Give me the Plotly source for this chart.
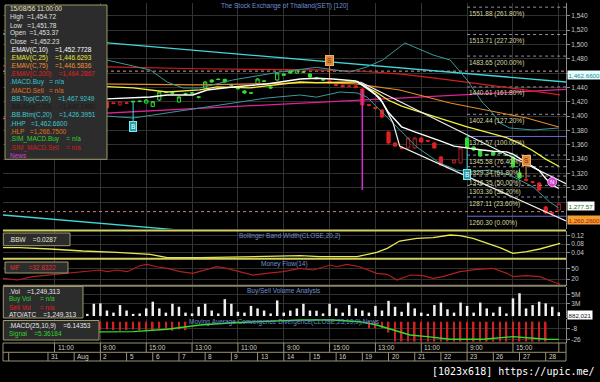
import plotly.graph_objects as go
from plotly.subplots import make_subplots

# ---------------- timeline ----------------
day_labels = ['29', '30', '31', 'Aug', '2', '5', '6', '7', '8', '9', '13', '14',
              '15', '16', '19', '20', '21', '22', '23', '26', '27', '28']
day_bar_counts = [2] + [4] * 20 + [3]
session_hours = ['9:00', '11:00', '13:00', '15:00']

# ---------------- price (2-hour candles) ----------------
opens = [1416, 1418, 1415, 1417, 1413, 1416, 1419, 1421, 1418, 1420, 1417, 1414, 1416, 1419, 1421,
         1420, 1418.5, 1415.5, 1418.5, 1419.5, 1421, 1418.2, 1413.5, 1422.4, 1434, 1432.8, 1419.6, 1431.5, 1432.5, 1427,
         1439.2, 1450.3, 1451.5, 1451.2, 1443.8, 1440.6, 1435, 1432.5, 1444.7, 1449, 1440.6, 1450.3, 1458.6, 1462.9, 1460,
         1461.8, 1458.7, 1453.37, 1451, 1449, 1444, 1443, 1441, 1442, 1437.8, 1416, 1412, 1408.5, 1377.8, 1362.5,
         1356, 1355.5, 1355.5, 1369.4, 1366, 1362.5, 1342.9, 1329.5, 1334.6, 1334.6, 1369.4, 1356.9, 1352.7, 1346.5, 1349.9,
         1348.5, 1346, 1343, 1320.6, 1311.5, 1308.5, 1306.7, 1273.2, 1265.5, 1269]
highs = [1420, 1419, 1418, 1418, 1417, 1421, 1423, 1422, 1421, 1421, 1418, 1417, 1420, 1422, 1423,
         1421.5, 1419.5, 1421, 1420, 1421.5, 1422, 1423.5, 1421, 1435, 1435, 1433.5, 1428, 1432.5, 1433.5, 1428,
         1449, 1451, 1452.5, 1452, 1445, 1441.5, 1436, 1433.5, 1453, 1450.5, 1441.5, 1461.5, 1460, 1464, 1465.5,
         1462.7, 1460, 1454.72, 1452, 1453, 1445, 1444, 1443.5, 1443, 1439, 1417, 1413, 1409.5, 1379, 1363.5,
         1357, 1370.5, 1371, 1370.5, 1367, 1363.5, 1344, 1330.5, 1340, 1356.5, 1371.57, 1358, 1354, 1347.5, 1351,
         1349.5, 1347, 1344, 1327, 1313, 1309.5, 1308, 1275, 1266.5, 1280]
lows = [1414, 1413, 1412, 1411, 1410, 1415, 1418, 1416, 1417, 1415, 1412, 1413, 1415, 1418, 1419,
        1410, 1416.5, 1414.5, 1417, 1418.5, 1419.5, 1417.5, 1412.5, 1421, 1432, 1430.5, 1419, 1429.5, 1431, 1424.5,
        1438, 1446.5, 1450, 1446.5, 1442, 1437, 1431, 1431, 1443.5, 1447.5, 1438, 1449.5, 1455.9, 1459, 1459,
        1460, 1453.5, 1451.78, 1449, 1445, 1441.5, 1440, 1439.5, 1438.5, 1413, 1413.5, 1409, 1397, 1360, 1357,
        1353.5, 1354.5, 1354, 1363, 1364, 1354.5, 1330.5, 1327, 1333.5, 1333.5, 1352, 1351.5, 1343, 1344.5, 1344.5,
        1347, 1344.5, 1328, 1312.5, 1309, 1306, 1295.5, 1263, 1260.3, 1267]
closes = [1418, 1415, 1417, 1413, 1416, 1419, 1421, 1418, 1420, 1417, 1414, 1416, 1419, 1421, 1420,
          1411.5, 1417.5, 1420, 1417.8, 1420.5, 1420.2, 1422.4, 1420, 1433.6, 1433, 1431.8, 1426.6, 1430.5, 1432, 1426,
          1447.5, 1447.5, 1451, 1447.5, 1443, 1438, 1432.2, 1432, 1451.7, 1448.5, 1439.2, 1460, 1457, 1460, 1464.3,
          1461.2, 1454.5, 1452.23, 1450.3, 1446, 1443, 1441, 1442, 1440, 1415.5, 1415, 1410.5, 1398.7, 1362.5, 1358.3,
          1355, 1369.4, 1369.4, 1363.9, 1365, 1355.5, 1331.8, 1328.5, 1338.8, 1355.5, 1356.9, 1352.7, 1344.3, 1345.7, 1345.7,
          1348, 1345.5, 1329, 1313.6, 1310.5, 1307.5, 1296.9, 1264.8, 1264.5, 1277.57]

buy_signal_bars = [19, 70]
sell_signal_bars = [49, 79]
news_bar, news_price = 83, 1308
news_line_bar, news_line_low, news_line_high = 54, 1297, 1437
cursor_bar = 47

# indicator lines (bar index, value)
ema10_x = [0, 15, 21.6, 24.2, 28.1, 30.3, 34.2, 39.4, 44.5, 47, 49.5, 53, 54, 55, 56, 57, 58, 59, 60, 62, 64, 66, 68, 70, 72, 74, 76, 77, 78, 79, 80, 81, 82, 83, 84]
ema10_y = [1422, 1424, 1426.6, 1429.4, 1429.4, 1436.4, 1440.6, 1444.7, 1451.7, 1452.8, 1451.7, 1449, 1443, 1437, 1430, 1420, 1405, 1395, 1385, 1378, 1372, 1365, 1358, 1355, 1353, 1351, 1350, 1347, 1341, 1335, 1330, 1324, 1313, 1304, 1299]
ema25_x = [0, 15, 19, 24.2, 29.2, 31.8, 36.8, 44.5, 47, 53.2, 54, 55, 56, 57, 58, 59, 60, 62, 65, 68, 70, 72, 74, 76, 78, 80, 82, 84]
ema25_y = [1442, 1441, 1439.2, 1433.6, 1436.4, 1440.6, 1439.2, 1447.5, 1446.6, 1447.5, 1443, 1439, 1434, 1428, 1422, 1418, 1414, 1408, 1399, 1390, 1385, 1380, 1375, 1370, 1362, 1352, 1340, 1330]
ema75_x = [0, 15, 29, 38, 44.5, 47, 53, 59.7, 67.4, 74.6, 79.1, 84]
ema75_y = [1446, 1445, 1443.5, 1445, 1446, 1446.6, 1445, 1436.4, 1418.2, 1405.7, 1397.3, 1384.8]
ema200_x = [-0.87, 15, 29, 47, 54, 60, 66, 72, 78, 84.2]
ema200_y = [1470, 1468.5, 1466, 1464.3, 1462.5, 1458.5, 1452, 1445, 1437.5, 1429.5]
bbtop_x = [0, 15, 21.6, 24.2, 26.6, 29.2, 34.2, 36.8, 41.4, 47, 52.1, 54.7, 57.1, 59.7, 60.5, 64.8, 67.4, 70, 72.4, 73.5, 75, 76.5, 80.1, 84]
bbtop_y = [1480, 1478.2, 1464.3, 1447.5, 1439.2, 1439.2, 1450.3, 1454.5, 1461.5, 1467.9, 1461.5, 1468.5, 1478.2, 1496.3, 1501.9, 1485.2, 1478.2, 1450.3, 1418.2, 1408.5, 1390.3, 1383.4, 1380.6, 1383.4]
bbbtm_x = [0, 15, 19, 24.2, 29.2, 34.2, 39.4, 44.5, 47, 50.6, 53.2, 54.7, 56.7, 57.8, 59.7, 62.3, 65.8, 68.4, 70.4, 73.5, 76.5, 80.1, 82.6, 84]
bbbtm_y = [1404, 1400, 1397.3, 1404.3, 1411.3, 1418.2, 1425.2, 1429.4, 1426.4, 1433.6, 1432.2, 1426.6, 1408.5, 1398.7, 1380.6, 1356.9, 1334.6, 1324.8, 1322, 1324.8, 1317.8, 1301.1, 1280.2, 1271.8]
channel_upper_x = [53.7, 85.1]
channel_upper_y = [1447.5, 1305.6]
channel_lower_x = [53.2, 54.7, 56.7, 58.7, 59.7, 85.1]
channel_lower_y = [1448.9, 1440.6, 1425.2, 1390.3, 1358.3, 1253.7]
trend_cyan_top_x = [-0.87, 85.1]
trend_cyan_top_y = [1514.5, 1447.5]
trend_cyan_btm_x = [-0.87, 85.1]
trend_cyan_btm_y = [1262, 1195]
trend_magenta_x = [-0.87, 85.1]
trend_magenta_y = [1396.6, 1437.2]
hhp, hlp = 1462.66, 1266.75
low_label_value = 1260.26

fib_values = [1551.88, 1513.71, 1483.65, 1440.61, 1402.44, 1371.57, 1345.58, 1329.34, 1316.35, 1303.36, 1287.11, 1260.30]
fib_pcts = ['261.80%', '227.20%', '200.00%', '161.80%', '127.20%', '100.00%', '76.40%', '61.80%', '50.00%', '38.20%', '23.60%', '0.00%']
fib_start_bar = 70

# Bollinger band width
bbw_x = [-0.87, 1.7, 6.3, 11.3, 16.5, 21.6, 24.2, 29.2, 44.5, 47.5, 53.2, 56.2, 57.8, 59.7, 62.3, 64.8, 67.4, 68.9, 70.9, 73, 75, 77, 79.1, 81.1, 83.1, 84.2]
bbw_y = [0.0622, 0.0622, 0.0559, 0.0463, 0.040, 0.0304, 0.014, 0.014, 0.0236, 0.0188, 0.0188, 0.040, 0.0593, 0.0945, 0.1075, 0.1104, 0.1234, 0.120, 0.1075, 0.0834, 0.0622, 0.0352, 0.0429, 0.0559, 0.0752, 0.0834]

# Money flow
mf_x = [-0.87, 1.3, 3.7, 6.3, 8.9, 11.3, 13.9, 15, 16.5, 18.1, 20, 21.1, 22.6, 24.2, 26.2, 28.1, 30.3, 31.8, 33.3, 35.3, 37.3, 39.4, 41.9, 44.5, 46.5, 49.1, 50.1, 51.6, 53.6, 56.2, 57.8, 59.3, 61.3, 63.3, 64.8, 66.3, 68.9, 71.5, 73.9, 76.1, 77, 79.1, 81.1, 83.1, 84.2]
mf_y = [22.0, 17.1, 26.7, 31.6, 36.6, 41.3, 46.2, 41.3, 46.2, 41.3, 58.7, 62.8, 55.8, 51.2, 41.3, 36.6, 49.1, 55.8, 51.2, 41.3, 31.6, 36.6, 41.3, 51.2, 46.2, 60.8, 55.8, 62.8, 55.8, 36.6, 33.7, 17.1, 31.6, 29.6, 22.0, 26.7, 41.3, 48.3, 51.2, 36.6, 26.7, 29.6, 26.7, 12.1, 4.6]

# Volume (millions)
volumes = [1.5, 2.2, 0.9, 1.8, 2.7, 1.0, 3.0, 1.3, 0.8, 2.1, 1.6, 0.7,
           0.5, 2.9, 3.0, 1.3, 0.8, 2.6, 1.3, 0.5, 0.6, 1.8, 3.4, 1.8, 0.8, 2.9, 2.2, 0.8, 0.6, 2.2, 2.9, 1.3,
           0.6, 4.0, 2.9, 1.0, 0.8, 2.4, 1.8, 1.3, 0.6, 3.7, 0.8, 1.3, 1.8,
           2.9, 1.3, 1.249313, 0.6, 2.9, 1.8, 0.8, 2.6, 1.8, 1.3, 0.8, 2.4, 1.3, 3.6, 2.2, 1.0, 3.2, 1.8, 0.8, 0.5,
           2.6, 3.2, 1.6, 0.8, 3.2, 2.4, 0.8, 3.2, 1.8, 0.8, 2.2, 0.6, 4.2, 5.4, 1.8, 2.6, 3.4, 3.0, 2.2, 0.882021]

# MACD
signal_x = [0, 14, 19, 24.2, 29.2, 34.2, 39.4, 44.5, 49.5, 53.6, 56.2, 58.7, 61.3, 63.9, 67.4, 72.4, 77, 80.1, 82.2, 84]
signal_y = [-14, -12.5, -12.5, -8.6, -1.7, 2.05, 4.8, 6.4, 6.4, 3.7, -1.7, -9.8, -17.9, -20.6, -24.9, -24.9, -20.6, -23.2, -24.9, -25]
hist_bars = list(range(0, 28)) + list(range(55, 83))
hist_bottom = [-10, -11, -10, -9, -10, -11, -10, -9, -10, -10, -11, -10, -9, -10,
               -10, -9, -10, -11, -10, -9, -10, -12, -10, -9, -10, -11, -9, -10,
               -7, -7, -7, -14] + [-28.5] * 24
hist_top = 3.7

legend_main = [
    ('15/08/56 11:00:00', '#e8e8c0'),
    ('High  =' + f'{highs[cursor_bar]:,.2f}', '#e0e0e0'),
    ('Low   =' + f'{lows[cursor_bar]:,.2f}', '#e0e0e0'),
    ('Open  =' + f'{opens[cursor_bar]:,.2f}', '#e0e0e0'),
    ('Close  =' + f'{closes[cursor_bar]:,.2f}', '#e0e0e0'),
    ('.EMAV(C,10)    =1,452.7728', '#ffffff'),
    ('.EMAV(C,25)    =1,446.6293', '#e8e840'),
    ('.EMAV(C,75)    =1,446.5836', '#f09030'),
    ('.EMAV(C,200)    =1,464.2867', '#e02020'),
    ('.MACD.Buy   = n/a', '#30c8d0'),
    ('.MACD.Sell   = n/a', '#e07020'),
    ('.BB.Top(C,20)    =1,467.9249', '#40c8d0'),
    ('.BB.Avg(C,20)    =1,447.1990', '#1a1a1a'),
    ('.BB.Btm(C,20)    =1,426.3951', '#40c8d0'),
    ('.HHP   =1,462.6600', '#40c8d0'),
    ('.HLP   =1,266.7500', '#e07020'),
    ('.SIM_MACD.Buy    = n/a', '#30d030'),
    ('.SIM_MACD.Sell    = n/a', '#d02020'),
    ('News', '#d040d0'),
]

# ---------------- geometry helpers ----------------
W, H = 600, 382
ML, MR = 3, 34
FONT = 'Liberation Sans, Arial, sans-serif'


def pxx(px):
    return (px - ML) / (W - ML - MR)


def pxy(py):
    return 1 - py / H


def nb(s):
    return s.replace(' ', '\u00a0')


n = len(closes)
bars = list(range(n))
bar_day, bar_time, day_start = [], [], []
for k, (lab, cnt) in enumerate(zip(day_labels, day_bar_counts)):
    hrs = session_hours[-cnt:] if k == 0 else session_hours[:cnt]
    day_start.append(len(bar_time))
    for h in hrs:
        bar_day.append(lab)
        bar_time.append(h)

time_ticks = list(range(7, n, 7))

# candle colour zone from signals
zone = []
state = 'sell'
for i in bars:
    if i in buy_signal_bars:
        state = 'buy'
    if i in sell_signal_bars:
        state = 'sell'
    zone.append(state)

fig = make_subplots(rows=5, cols=1, shared_xaxes=True, vertical_spacing=0)


def line(x, y, color, width=1, dash=None, row=1):
    fig.add_trace(go.Scatter(x=x, y=y, mode='lines', hoverinfo='skip',
                             line=dict(color=color, width=width, dash=dash)), row=row, col=1)


# fib lines
xr_right = 85.1
for v, p in zip(fib_values, fib_pcts):
    solid = p in ('100.00%', '0.00%')
    line([fib_start_bar, xr_right], [v, v], '#6a6ad0' if solid else '#9090a8', 1, None if solid else 'dot')
line([-0.87, xr_right], [hhp, hhp], '#d0a0a0', 1, 'dot')
line([-0.87, xr_right], [hlp, hlp], '#d08080', 1, 'dot')

line(trend_cyan_top_x, trend_cyan_top_y, '#40d8d8', 1.3)
line(trend_cyan_btm_x, trend_cyan_btm_y, '#40d8d8', 1.3)
line(trend_magenta_x, trend_magenta_y, '#e0209a', 1.3)
line(ema200_x, ema200_y, '#d02020', 1.2)
line(ema75_x, ema75_y, '#e88a2a', 1.2)
line(bbtop_x, bbtop_y, '#3a9a9a', 1)
line(bbbtm_x, bbbtm_y, '#3a9a9a', 1)
line(ema25_x, ema25_y, '#f0f040', 1.3)
line(channel_upper_x, channel_upper_y, '#f0f0f0', 1.2)
line(channel_lower_x, channel_lower_y, '#f0f0f0', 1.2)
line(ema10_x, ema10_y, '#ffffff', 1.4)

# candles
for zname, up_line, dn_col in (('buy', '#30e030', '#30e030'), ('sell', '#b02020', '#e02020')):
    idx = [i for i in bars if zone[i] == zname]
    fig.add_trace(go.Candlestick(
        x=idx, open=[opens[i] for i in idx], high=[highs[i] for i in idx],
        low=[lows[i] for i in idx], close=[closes[i] for i in idx],
        increasing=dict(line=dict(color=up_line, width=1), fillcolor='#000000'),
        decreasing=dict(line=dict(color=dn_col, width=1), fillcolor=dn_col),
        hoverinfo='skip', showlegend=False), row=1, col=1)

line([news_line_bar, news_line_bar], [news_line_low, news_line_high], '#d030d0', 1.5)
fig.add_trace(go.Scatter(x=[news_bar], y=[news_price], mode='markers+text', text=['N'],
                         textfont=dict(size=6, color='white', family=FONT),
                         marker=dict(size=9, color='#d040d0', line=dict(color='#f0a0f0', width=1)),
                         hoverinfo='skip'), row=1, col=1)

# lower panels
line(bbw_x, bbw_y, '#e8e850', 1.3, row=2)
line(mf_x, mf_y, '#b02020', 1.2, row=3)
fig.add_trace(go.Bar(x=bars, y=volumes, marker=dict(color='#f0f0f0', line=dict(width=0)),
                     width=0.38, hoverinfo='skip'), row=4, col=1)
fig.add_trace(go.Bar(x=hist_bars, y=[b - hist_top for b in hist_bottom], base=hist_top,
                     marker=dict(color='#d02020', line=dict(width=0)), width=0.25,
                     hoverinfo='skip'), row=5, col=1)
line(signal_x, signal_y, '#30e030', 1.4, row=5)

# ---------------- axes ----------------
main_ticks = list(range(1280, 1541, 20))
hidden_main_ticks = (1280, 1460)   # covered by the value boxes in the original
domains = [(229, 3), (259, 231), (286, 259), (318, 287), (343, 319)]
ranges = [(1242.5, 1557.7), (0.0077, 0.1427), (-0.4, 78.3), (-0.48, 6.9), (-30.9, 8.05)]
tick_sets = [
    (main_ticks, ['' if v in hidden_main_ticks else f'{v:,}' for v in main_ticks]),
    ([0.04, 0.08, 0.12], ['0.04', '0.08', '0.12']),
    ([20, 50], ['20', '50']),
    ([3, 5], ['3M', '5M']),
    ([-26, -8], ['-26', '-8']),
]
layout_axes = {}
for r in range(5):
    yname = 'yaxis' if r == 0 else f'yaxis{r + 1}'
    xname = 'xaxis' if r == 0 else f'xaxis{r + 1}'
    b, t = domains[r]
    layout_axes[yname] = dict(domain=[pxy(b), pxy(t)], range=list(ranges[r]), side='right',
                              tickvals=tick_sets[r][0], ticktext=tick_sets[r][1],
                              showgrid=True, gridcolor='#303030', gridwidth=1, zeroline=False,
                              showline=True, linecolor='#8a8a8a', linewidth=1,
                              ticks='outside', ticklen=3, tickcolor='#8a8a8a',
                              tickfont=dict(size=6.5, color='#c8c8c8', family=FONT), fixedrange=True)
    layout_axes[xname] = dict(range=[-0.87, xr_right], tickvals=time_ticks, showticklabels=False,
                              showgrid=True, gridcolor='#333333', gridwidth=1, zeroline=False,
                              ticks='', showline=False, rangeslider=dict(visible=False), fixedrange=True)

shapes = []
annotations = []


def hline(py, color, width):
    shapes.append(dict(type='line', xref='paper', yref='paper', x0=0, x1=1, y0=pxy(py), y1=pxy(py),
                       line=dict(color=color, width=width), layer='above'))


hline(230.5, '#d0d060', 2)
hline(258.8, '#d0d060', 2)
hline(285.8, '#8a8468', 2)

# date axis box
AXC = '#9a9270'
shapes.append(dict(type='rect', xref='paper', yref='paper', x0=0, x1=1, y0=pxy(361), y1=pxy(343),
                   line=dict(color=AXC, width=1)))
hline(352.3, AXC, 1)
for i in time_ticks:
    shapes.append(dict(type='line', xref='x', yref='paper', x0=i, x1=i, y0=pxy(352.3), y1=pxy(343),
                       line=dict(color=AXC, width=1)))
    if i <= n - 4:
        annotations.append(dict(x=i, y=pxy(347.8), xref='x', yref='paper', text=bar_time[i],
                                showarrow=False, xanchor='left', yanchor='middle', xshift=1,
                                font=dict(size=6.5, color='#d0d0c0', family=FONT)))
shapes.append(dict(type='line', xref='x', yref='paper', x0=0, x1=0, y0=pxy(361), y1=pxy(352.3),
                   line=dict(color=AXC, width=1)))
for k, s in enumerate(day_start):
    if k < 2:
        continue
    shapes.append(dict(type='line', xref='x', yref='paper', x0=s, x1=s, y0=pxy(361), y1=pxy(352.3),
                       line=dict(color=AXC, width=1)))
    annotations.append(dict(x=s, y=pxy(356.8), xref='x', yref='paper', text=day_labels[k],
                            showarrow=False, xanchor='left', yanchor='middle', xshift=1,
                            font=dict(size=6.5, color='#d0d0c0', family=FONT)))


def box(x0, x1, y0, y1):
    shapes.append(dict(type='rect', xref='paper', yref='paper', x0=pxx(x0), x1=pxx(x1),
                       y0=pxy(y1), y1=pxy(y0), fillcolor='#2c2c2c',
                       line=dict(color='#a09a6a', width=1), layer='above'))


def text(px, py, s, color, size=6.5, anchor='left'):
    annotations.append(dict(x=pxx(px), y=pxy(py), xref='paper', yref='paper', text=nb(s),
                            showarrow=False, xanchor=anchor, yanchor='middle',
                            font=dict(size=size, color=color, family=FONT)))


# main legend
box(5, 107, 5, 159.3)
for k, (s, c) in enumerate(legend_main):
    text(7.5, 9 + k * 8.15, s, c)

box(3.3, 70, 233, 245.7)
text(7, 239.3, '.BBW    =0.0287', '#e8e8d8')
box(5, 68, 262, 273)
text(8, 267.5, 'MF     =32.8322', '#e03030')
box(3.3, 83, 286.5, 318)
text(7, 291, '.Vol    =1,249,313', '#e8e8e8')
text(7, 299, 'Buy Vol     = n/a', '#30d030')
text(7, 307, 'Sell Vol     = n/a', '#e02020')
text(7, 314.8, 'ATO/ATC    =1,249,313', '#e8e8e8')
box(3.3, 99, 320.5, 340)
text(7, 325.5, '.MACD(25,10,9)    =6.14353', '#e8e8e8')
text(7, 333.8, 'Signal    =5.36184', '#30d030')

# panel titles
TC = '#7090d0'
text(284.5, 6, 'The Stock Exchange of Thailand(SET) [120]', TC, anchor='center')
text(290, 235.7, 'Bollinger Band Width(CLOSE,20,2)', TC, anchor='center')
text(284, 263.5, 'Money Flow(14)', TC, anchor='center')
text(284, 290.7, 'Buy/Sell Volume Analysis', TC, anchor='center')
text(284, 322.3, 'Moving Average Convergence Divergence(CLOSE,25,10,9),News', TC, anchor='center')

# fib labels
for v, p in zip(fib_values, fib_pcts):
    annotations.append(dict(x=fib_start_bar, y=v, xref='x', yref='y', text=nb(f'{v:.2f} ({p})'),
                            showarrow=False, xanchor='left', yanchor='top', xshift=0, yshift=-0.5,
                            font=dict(size=6.5, color='#d8d8a0', family=FONT)))

# buy / sell markers
for i in buy_signal_bars:
    annotations.append(dict(x=i, y=lows[i], xref='x', yref='y', text='B', showarrow=True,
                            arrowhead=0, arrowwidth=1, arrowcolor='#40d8d8', ax=0, ay=24,
                            bgcolor='#2a9aaa', bordercolor='#70f0f0', borderwidth=1, borderpad=1,
                            font=dict(size=6.5, color='#ffffff', family=FONT)))
for i in sell_signal_bars:
    annotations.append(dict(x=i, y=highs[i], xref='x', yref='y', text='S', showarrow=True,
                            arrowhead=0, arrowwidth=1, arrowcolor='#e89040', ax=0, ay=-18,
                            bgcolor='#e0883a', bordercolor='#f0b070', borderwidth=1, borderpad=1,
                            font=dict(size=6.5, color='#703000', family=FONT)))


# right side value labels
def rlabel(yref, y, s, bg, fg):
    annotations.append(dict(x=1.0, y=y, xref='paper', yref=yref, text=s, showarrow=False,
                            xanchor='left', yanchor='middle', xshift=0.5, bgcolor=bg, borderpad=0.5,
                            font=dict(size=6.2, color=fg, family=FONT)))


rlabel('y', hhp - 6, f'{hhp:,.4f}', '#e8ffff', '#108c8c')
rlabel('y', closes[-1] - 3, f'{closes[-1]:,.2f}', '#ffffff', '#107010')
rlabel('y', low_label_value - 5, f'{low_label_value:,.4f}', '#f0a030', '#b01010')
rlabel('y4', volumes[-1] - 0.55, f'{int(round(volumes[-1] * 1e6)):,}', '#ffffff', '#101010')

annotations.append(dict(x=pxx(597), y=pxy(371.5), xref='paper', yref='paper',
                        text='[1023x618] https://upic.me/', showarrow=False,
                        xanchor='right', yanchor='middle',
                        font=dict(size=10, color='#ffffff', family='DejaVu Sans Mono, monospace')))

fig.update_layout(
    width=W, height=H, margin=dict(l=ML, r=MR, t=0, b=0),
    paper_bgcolor='#000000', plot_bgcolor='#000000', showlegend=False,
    barmode='overlay', shapes=shapes, annotations=annotations, **layout_axes,
)
fig.write_html('out.html')
